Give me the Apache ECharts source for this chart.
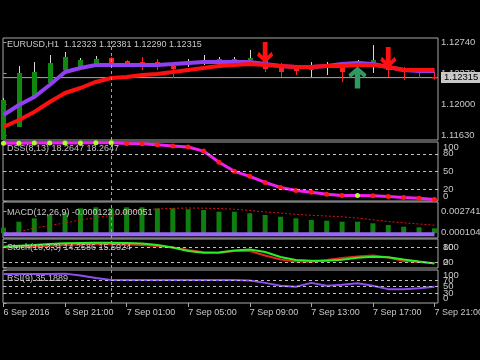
<!DOCTYPE html>
<html><head><meta charset="utf-8">
<script src="https://cdn.jsdelivr.net/npm/echarts@6/dist/echarts.min.js"></script>
<style>html,body{margin:0;padding:0;background:#000;}#c{width:480px;height:360px;}</style>
</head><body><div id="c"></div>
<script>
// ---------- data ----------
const times = ['6 Sep 17:00','6 Sep 18:00','6 Sep 19:00','6 Sep 20:00','6 Sep 21:00','6 Sep 22:00','6 Sep 23:00',
  '7 Sep 00:00','7 Sep 01:00','7 Sep 02:00','7 Sep 03:00','7 Sep 04:00','7 Sep 05:00','7 Sep 06:00','7 Sep 07:00',
  '7 Sep 08:00','7 Sep 09:00','7 Sep 10:00','7 Sep 11:00','7 Sep 12:00','7 Sep 13:00','7 Sep 14:00','7 Sep 15:00',
  '7 Sep 16:00','7 Sep 17:00','7 Sep 18:00','7 Sep 19:00','7 Sep 20:00','7 Sep 21:00'];
const tickIndex = [0,4,8,12,16,20,24,28];
const tickLabels = ['6 Sep 2016','6 Sep 21:00','7 Sep 01:00','7 Sep 05:00','7 Sep 09:00','7 Sep 13:00','7 Sep 17:00','7 Sep 21:00'];
const dayBreakIndex = [7];

const openP  = [1.11570,1.11725,1.12084,1.12251,1.12406,1.12442,1.12477,1.12549,1.12513,1.12501,1.12501,1.12454,1.12477,1.12501,1.12525,1.12513,1.12525,1.12525,1.12466,1.12418,1.12406,1.12442,1.12466,1.12489,1.12489,1.12501,1.12430,1.12418,1.12323];
const closeP = [1.12048,1.12370,1.12382,1.12489,1.12561,1.12525,1.12537,1.12489,1.12489,1.12477,1.12477,1.12418,1.12501,1.12525,1.12537,1.12537,1.12549,1.12418,1.12382,1.12394,1.12430,1.12454,1.12382,1.12513,1.12525,1.12406,1.12382,1.12382,1.12315];
const highP  = [1.12070,1.12454,1.12501,1.12585,1.12621,1.12549,1.12573,1.12561,1.12525,1.12561,1.12537,1.12489,1.12537,1.12585,1.12561,1.12561,1.12645,1.12537,1.12489,1.12430,1.12501,1.12501,1.12501,1.12525,1.12704,1.12525,1.12442,1.12430,1.12381];
const lowP   = [1.11570,1.11725,1.12072,1.12227,1.12406,1.12430,1.12466,1.12466,1.12442,1.12406,1.12406,1.12310,1.12442,1.12466,1.12489,1.12489,1.12525,1.12382,1.12322,1.12346,1.12322,1.12346,1.12263,1.12466,1.12370,1.12322,1.12286,1.12310,1.12290];
const maFast = [1.11869,1.11988,1.12084,1.12227,1.12382,1.12430,1.12466,1.12466,1.12466,1.12466,1.12466,1.12477,1.12489,1.12501,1.12501,1.12501,1.12501,1.12477,1.12454,1.12442,1.12442,1.12454,1.12477,1.12489,1.12477,1.12442,1.12406,1.12394,1.12394];
const maSlow = [1.11725,1.11809,1.11905,1.12024,1.12131,1.12191,1.12263,1.12310,1.12322,1.12346,1.12358,1.12382,1.12406,1.12430,1.12454,1.12466,1.12477,1.12466,1.12454,1.12442,1.12442,1.12454,1.12454,1.12466,1.12466,1.12442,1.12406,1.12406,1.12406];
const sellIndex = [17,25];
const sellPrice = [1.12615,1.12555];
const buyIndex = [23];
const buyPrice = [1.12316];
const bidPrice = 1.12315;
const priceTicks = [1.11630,1.12000,1.12370,1.12740];

const dss = [97.9,98.0,98.2,98.3,98.4,98.5,98.6,98.7,97.6,97.1,95.4,93.2,91.4,84.6,65.8,50.3,41.8,31.5,22.9,17.8,14.9,11.5,9.2,9.4,9.1,7.5,5.8,4.6,2.4];
const dssLevels = [20,50,80];
const dssRange = [0,100];

const macdHist = [0.00069,0.00144,0.00186,0.00228,0.00256,0.00311,0.00324,0.00311,0.00324,0.00324,0.00311,0.00311,0.00299,0.00290,0.00269,0.00269,0.00249,0.00228,0.00206,0.00186,0.00165,0.00156,0.00144,0.00144,0.00124,0.00103,0.00081,0.00074,0.00061];
const macdSignal = [-0.00022,0.00015,0.00065,0.00096,0.00128,0.00165,0.00196,0.00221,0.00265,0.00290,0.00303,0.00311,0.00315,0.00313,0.00308,0.00300,0.00284,0.00265,0.00253,0.00236,0.00224,0.00215,0.00205,0.00190,0.00168,0.00146,0.00130,0.00115,0.00100];
const macdLine = [-0.000122,-0.000122,-0.000122,-0.000122,-0.000122,-0.000122,-0.000122,-0.000122,-0.000122,-0.000122,-0.000122,-0.000122,-0.000122,-0.000122,-0.000122,-0.000122,-0.000122,-0.000122,-0.000122,-0.000122,-0.000122,-0.000122,-0.000122,-0.000122,-0.000122,-0.000122,-0.000122,-0.000122,-0.000122];
const macdTicks = [0.000104,0.002741];

const stochMain = [81,85,88,92,95,96,97,97,96,94,88,78,64,57,58,66,70,60,40,28,25,25,29,37,41,39,30,22,14.26];
const stochSignal = [79,80,81,85,88,91,92,92,90,88,84,78,68,59,57,64,64,46,30,22,21,28,36,42,46,38,24,20,15.5];
const stochLevels = [20,80];
const stochRange = [0,100];

const rsi = [88,88,88,88,89,83,76,70,70,70,70,70,70,70,70,70,68,61,52,49,61,52,55,60,52,42,42,45,49];
const rsiLevels = [30,50,70];
const rsiRange = [0,100];

const headers = ['EURUSD,H1  1.12323 1.12381 1.12290 1.12315','DSS(8,13) 18.2647 18.2647',
  'MACD(12,26,9) -0.000122 0.000051','Stoch(10,3,3) 14.2586 15.5024','RSI(9) 35.1889'];

// ---------- layout / style ----------
const FONT = 'Liberation Sans';
const TXT = '#c8c8c8';
const FRAME = '#a8a8a8';
const panes = [
  {top:38, height:102},
  {top:142, height:59},
  {top:202, height:36},
  {top:239, height:29},
  {top:270, height:33}
];
const headerTops = [40.5,144,208,243,274];
const XMIN = -0.032, XMAX = 28.23;

const pair = arr => arr.map((v,i)=>[i,v]);
const richShift = {
  n:{color:TXT, fontSize:9.5, fontFamily:FONT},
  t:{color:TXT, fontSize:9.5, fontFamily:FONT, padding:[10,0,0,0]},
  b:{color:TXT, fontSize:9.5, fontFamily:FONT, padding:[0,0,10,0]}
};
const markLabel = (v, key) => ({show:true, position:'end', distance:5, formatter:'{'+key+'|'+v+'}',
  color:TXT, fontSize:9.5, fontFamily:FONT, rich:richShift});
const levelMarks = (levels, range) => ({silent:true, symbol:'none',
  lineStyle:{color:'#c0c0c0', type:[3,3], width:1},
  data: levels.map(v=>({yAxis:v, label:markLabel(v,'n')})).concat([
    {yAxis:range[1], lineStyle:{color:'rgba(0,0,0,0)', width:0.1}, label:markLabel(range[1],'t')},
    {yAxis:range[0], lineStyle:{color:'rgba(0,0,0,0)', width:0.1}, label:markLabel(range[0],'b')}])});
const dayBreak = () => ({silent:true, symbol:'none', label:{show:false},
  lineStyle:{color:'#a0a0a0', type:[3,3], width:1}, data: dayBreakIndex.map(v=>({xAxis:v}))});

const grids = panes.map(p=>({left:3, width:435, top:p.top, height:p.height, show:true,
  borderColor:FRAME, borderWidth:1, backgroundColor:'transparent', outerBoundsMode:'none', containLabel:false}));

const xAxes = panes.map((p,i)=>{
  const last = i===panes.length-1;
  return {type:'value', gridIndex:i, min:XMIN, max:XMAX, show:true,
    axisLine:{show:false}, splitLine:{show:false},
    axisTick:{show:last, customValues:tickIndex, length:4, lineStyle:{color:FRAME}},
    axisLabel:{show:last, customValues:tickIndex, align:'left', margin:5, color:TXT, fontSize:9, fontFamily:FONT, hideOverlap:false,
      formatter:v=>tickLabels[tickIndex.indexOf(Math.round(v))] || ''}};
});

function yAx(gi, min, max, ticks, fmt, showLabel){
  return {type:'value', gridIndex:gi, position:'right', min, max,
    axisLine:{show:false}, splitLine:{show:false},
    axisTick:{show:true, customValues:ticks, length:3, lineStyle:{color:FRAME}},
    axisLabel:{show:showLabel, customValues:ticks, formatter:fmt, color:TXT, fontSize:9.5, fontFamily:FONT, margin:3, hideOverlap:false}};
}

const yAxes = [
  yAx(0, 1.11570, 1.12788, priceTicks, v=>v.toFixed(5), true),
  yAx(1, 0, 100, dssLevels.concat(dssRange), v=>String(v), false),
  yAx(2, -0.0006, 0.0039, macdTicks, v=>v.toFixed(6), true),
  yAx(3, -4, 112, stochLevels.concat(stochRange), v=>String(v), false),
  yAx(4, 0, 100, rsiLevels.concat(rsiRange), v=>String(v), false)
];

const candleData = openP.map((o,i)=>[i,o,closeP[i],lowP[i],highP[i]]);
const downArrow = 'path://M3.5,0 L6.5,0 L6.5,8.5 L9,6 L10,8.5 L5,13 L0,8.5 L1,6 L3.5,8.5 Z';
const upArrow = 'path://M5,0 L10,4.5 L9,7 L6.5,4.5 L6.5,13 L3.5,13 L3.5,4.5 L1,7 L0,4.5 Z';

const dssData = dss.map((v,i)=>({value:[i,v], itemStyle:{color:(i===0 || v>dss[i-1]) ? '#a8ff2a' : '#ff1a1a'}}));

const series = [
  {type:'line', xAxisIndex:0, yAxisIndex:0, data:[[XMIN,bidPrice],[XMAX,bidPrice]], showSymbol:false, silent:true,
    lineStyle:{color:'#a8a8a8', width:1}, z:1,
    endLabel:{show:true, formatter:()=>bidPrice.toFixed(5), color:'#000', backgroundColor:'#c8c8c8',
      padding:[1,3,0,3], fontSize:9.5, fontFamily:FONT, distance:3}},
  {type:'custom', xAxisIndex:0, yAxisIndex:0, data:candleData, z:2,
    renderItem:(params, api)=>{
      const x=api.value(0), o=api.value(1), c=api.value(2), l=api.value(3), h=api.value(4);
      const pH=api.coord([x,h]), pL=api.coord([x,l]), pO=api.coord([x,o]), pC=api.coord([x,c]);
      const bull = c>=o;
      const cx = Math.round(pO[0])+0.5;
      const top = Math.min(pO[1],pC[1]);
      const ht = Math.max(1.5, Math.abs(pO[1]-pC[1]));
      return {type:'group', children:[
        {type:'line', shape:{x1:cx,y1:pH[1],x2:cx,y2:pL[1]}, style:{stroke: bull?'#d8d8d8':'#ff2020', lineWidth:1}},
        {type:'rect', shape:{x:cx-2.5, y:top, width:5, height:ht}, style:{fill: bull?'#0f8a0f':'#ff2020'}}
      ]};
    }
  },
  {type:'line', xAxisIndex:0, yAxisIndex:0, data:pair(maFast), showSymbol:false, lineStyle:{color:'#9040f0', width:4}, z:3,
    markLine:dayBreak()},
  {type:'line', xAxisIndex:0, yAxisIndex:0, data:pair(maSlow), showSymbol:false, lineStyle:{color:'#ff1010', width:4}, z:4},
  {type:'scatter', xAxisIndex:0, yAxisIndex:0, data:sellIndex.map((x,i)=>[x,sellPrice[i]]), symbol:downArrow, symbolSize:[16,21],
    itemStyle:{color:'#ff1010', opacity:1}, z:6},
  {type:'scatter', xAxisIndex:0, yAxisIndex:0, data:buyIndex.map((x,i)=>[x,buyPrice[i]]), symbol:upArrow, symbolSize:[18,22],
    itemStyle:{color:'#2e9a62', opacity:1}, z:6},

  {type:'line', xAxisIndex:1, yAxisIndex:1, data:dssData, showSymbol:true, symbol:'circle', symbolSize:5,
    lineStyle:{color:'#f020f0', width:3}, z:3, markLine:levelMarks(dssLevels, dssRange)},
  {type:'line', xAxisIndex:1, yAxisIndex:1, data:[], markLine:dayBreak()},

  {type:'bar', xAxisIndex:2, yAxisIndex:2, data:pair(macdHist), barWidth:5, itemStyle:{color:'#0f7f0f'}, z:2, markLine:dayBreak()},
  {type:'line', xAxisIndex:2, yAxisIndex:2, data:pair(macdSignal), showSymbol:false, lineStyle:{color:'#e01010', width:1, type:[2,2]}, z:3},
  {type:'line', xAxisIndex:2, yAxisIndex:2, data:pair(macdLine), showSymbol:false, lineStyle:{color:'#9a66f5', width:4}, z:4},

  {type:'line', xAxisIndex:3, yAxisIndex:3, data:pair(stochSignal), showSymbol:false, lineStyle:{color:'#e02818', width:2}, z:3,
    markLine:levelMarks(stochLevels, stochRange)},
  {type:'line', xAxisIndex:3, yAxisIndex:3, data:pair(stochMain), showSymbol:false, lineStyle:{color:'#2af02a', width:2}, z:4,
    markLine:dayBreak()},

  {type:'line', xAxisIndex:4, yAxisIndex:4, data:pair(rsi), showSymbol:false, lineStyle:{color:'#8f4ff0', width:2}, z:3,
    markLine:levelMarks(rsiLevels, rsiRange)},
  {type:'line', xAxisIndex:4, yAxisIndex:4, data:[], markLine:dayBreak()}
];

const option = {
  backgroundColor:'#000',
  animation:false,
  title: headers.map((t,i)=>({text:t, left:7, top:headerTops[i], padding:0,
    textStyle:{color:TXT, fontSize:9, fontWeight:'normal', fontFamily:FONT}})),
  grid: grids,
  xAxis: xAxes,
  yAxis: yAxes,
  series: series
};
const chart = echarts.init(document.getElementById('c'), null, {renderer:'canvas'});
chart.setOption(option);
</script></body></html>
